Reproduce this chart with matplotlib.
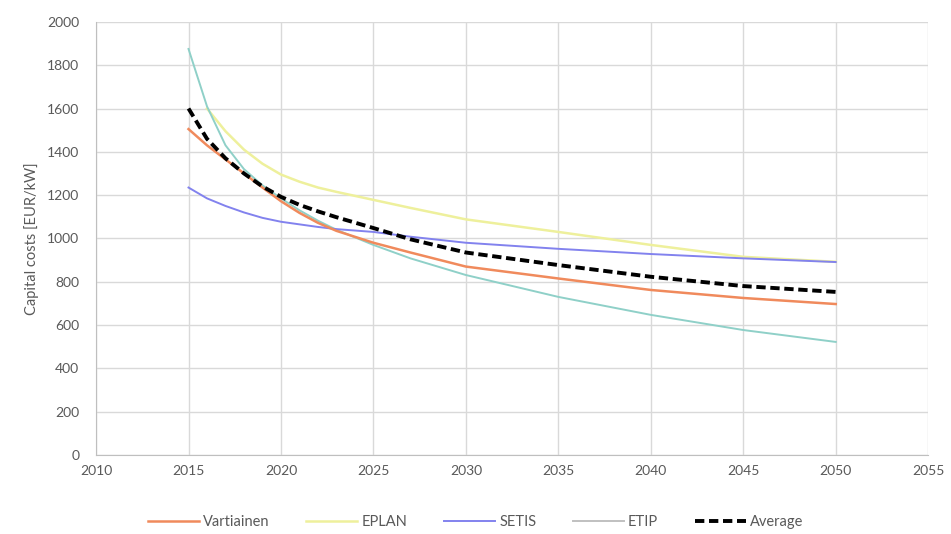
import matplotlib
matplotlib.use("Agg")
import matplotlib.pyplot as plt

plt.rcParams['font.family'] = ['Lato', 'DejaVu Sans']

# data
years = [2015, 2016, 2017, 2018, 2019, 2020, 2021, 2022, 2023, 2025, 2027, 2030, 2035, 2040, 2045, 2050]
vartiainen = [1505, 1430, 1365, 1300, 1235, 1172, 1118, 1072, 1035, 980, 935, 870, 815, 762, 725, 697]
etip = [1875, 1610, 1430, 1320, 1245, 1185, 1130, 1082, 1040, 970, 908, 831, 730, 647, 577, 522]
setis = [1235, 1185, 1150, 1120, 1095, 1077, 1065, 1053, 1043, 1030, 1008, 980, 952, 928, 908, 891]
average = [1600, 1460, 1370, 1300, 1240, 1192, 1155, 1125, 1098, 1048, 996, 935, 877, 823, 780, 753]

years_e = [2016, 2017, 2018, 2019, 2020, 2021, 2022, 2023, 2025, 2027, 2030, 2035, 2040, 2045, 2050]
eplan = [1600, 1495, 1410, 1345, 1295, 1262, 1235, 1215, 1178, 1141, 1088, 1030, 970, 915, 892]

fig = plt.figure(figsize=(9.51, 5.34), dpi=100)
ax = fig.add_axes([0.101, 0.148, 0.875, 0.811])

ax.plot(years_e, eplan, color="#eef09c", lw=1.8, label="EPLAN", zorder=2)
ax.plot(years, etip, color="#8fd0c8", lw=1.4, label="ETIP", zorder=3)
ax.plot(years, setis, color="#8282ee", lw=1.4, label="SETIS", zorder=3)
ax.plot(years, vartiainen, color="#f08a5c", lw=1.8, label="Vartiainen", zorder=4)
ax.plot(years, average, color="black", lw=2.8, ls=(0, (2.4, 1.2)), label="Average", zorder=5)

ax.set_xlim(2010, 2055)
ax.set_ylim(0, 2000)
ax.set_xticks(range(2010, 2056, 5))
ax.set_yticks(range(0, 2001, 200))
ax.grid(True, color="#d9d9d9", lw=1)
ax.set_axisbelow(True)
for s in ["top", "right"]:
    ax.spines[s].set_visible(False)
for s in ["left", "bottom"]:
    ax.spines[s].set_color("#bfbfbf")
ax.tick_params(length=0, labelsize=10, colors="#595959")
ax.tick_params(axis="y", pad=12)
ax.tick_params(axis="x", pad=7)
ax.set_ylabel("Capital costs [EUR/kW]", fontsize=10.5, color="#595959", labelpad=6)

h, l = ax.get_legend_handles_labels()
order = ["Vartiainen", "EPLAN", "SETIS", "ETIP", "Average"]
hd = dict(zip(l, h))
leg = fig.legend([hd[k] for k in order], order, loc="center", bbox_to_anchor=(0.5, 0.022),
                 ncol=5, frameon=False, fontsize=10.5, handlelength=3.5, columnspacing=2.5,
                 handletextpad=0.3)
for t in leg.get_texts():
    t.set_color("#595959")
leg.legend_handles[3].set_color("#c0c0c0")

fig.savefig("out.png", dpi=100)
